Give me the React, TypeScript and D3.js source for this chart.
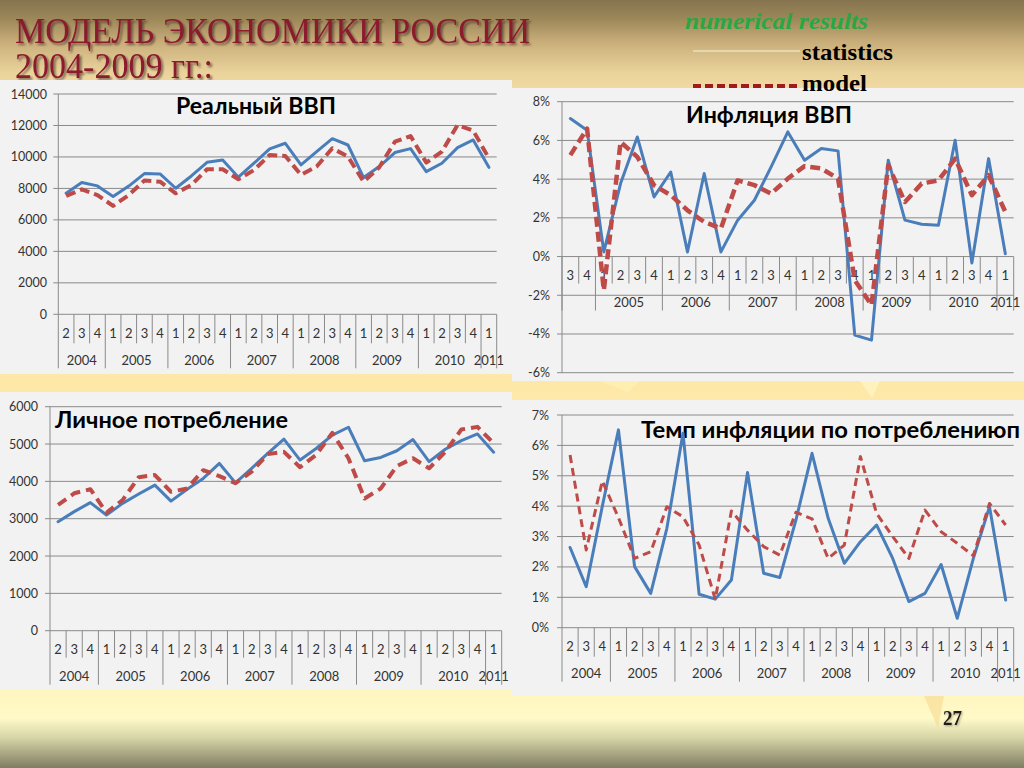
import React from "react";
import * as d3 from "d3";

// ---------- DATA ----------
const categories = [
  "2004-2", "2004-3", "2004-4",
  "2005-1", "2005-2", "2005-3", "2005-4",
  "2006-1", "2006-2", "2006-3", "2006-4",
  "2007-1", "2007-2", "2007-3", "2007-4",
  "2008-1", "2008-2", "2008-3", "2008-4",
  "2009-1", "2009-2", "2009-3", "2009-4",
  "2010-1", "2010-2", "2010-3", "2010-4",
  "2011-1",
];
const categoriesGdpInfl = categories.slice(1); // starts at 2004 Q3

const realGdpStat = [7700, 8370, 8160, 7480, 8150, 8940, 8920, 8010, 8790, 9660, 9810, 8710, 9600, 10510, 10870, 9490, 10340, 11160, 10760, 8690, 9390, 10280, 10530, 9070, 9600, 10590, 11080, 9340];
const realGdpModel = [7520, 7940, 7580, 6890, 7580, 8500, 8430, 7690, 8220, 9220, 9220, 8580, 9170, 10130, 10060, 8860, 9390, 10550, 10020, 8430, 9340, 10970, 11330, 9640, 10340, 12030, 11670, 9920];

const gdpInflStat = [7.13, 6.53, 0.24, 3.77, 6.18, 3.08, 4.37, 0.24, 4.29, 0.24, 1.88, 2.91, 4.63, 6.44, 4.98, 5.58, 5.46, -4.06, -4.32, 4.98, 1.88, 1.67, 1.62, 6.01, -0.33, 5.06, 0.15];
const gdpInflModel = [5.24, 6.61, -1.74, 5.92, 5.15, 3.69, 3.17, 2.39, 1.79, 1.45, 3.94, 3.69, 3.25, 4.03, 4.67, 4.55, 4.03, -1.22, -2.51, 4.72, 2.82, 3.77, 3.94, 5.06, 3.17, 4.2, 2.31];

const consStat = [2920, 3190, 3430, 3100, 3410, 3660, 3900, 3470, 3790, 4080, 4480, 3960, 4350, 4750, 5130, 4570, 4880, 5240, 5450, 4550, 4640, 4820, 5120, 4530, 4860, 5090, 5270, 4780];
const consModel = [3370, 3680, 3790, 3160, 3500, 4110, 4170, 3720, 3810, 4300, 4140, 3950, 4260, 4730, 4790, 4380, 4710, 5300, 4620, 3540, 3810, 4410, 4620, 4350, 4790, 5390, 5460, 5020];

const consInflStat = [2.64, 1.35, 4.0, 6.51, 2.01, 1.13, 3.27, 6.4, 1.1, 0.94, 1.57, 5.11, 1.79, 1.65, 3.54, 5.74, 3.6, 2.12, 2.83, 3.38, 2.28, 0.86, 1.13, 2.08, 0.31, 2.28, 3.98, 0.91];
const consInflModel = [5.68, 2.56, 4.83, 3.62, 2.28, 2.5, 3.98, 3.65, 2.72, 0.94, 3.84, 3.21, 2.67, 2.39, 3.8, 3.58, 2.28, 2.72, 5.63, 3.76, 3.0, 2.28, 3.87, 3.16, 2.78, 2.37, 4.09, 3.38];

const gdpTicks = [0, 2000, 4000, 6000, 8000, 10000, 12000, 14000];
const gdpInflTicks = [-6, -4, -2, 0, 2, 4, 6, 8];
const consTicks = [0, 1000, 2000, 3000, 4000, 5000, 6000];
const consInflTicks = [0, 1, 2, 3, 4, 5, 6, 7];

const titleLines = ["МОДЕЛЬ ЭКОНОМИКИ РОССИИ", "2004-2009 гг.:"];
const legendLabels = ["numerical results", "statistics", "model"];
const chartTitles = ["Реальный ВВП", "Инфляция ВВП", "Личное потребление", "Темп инфляции по потреблениюп"];
const pageNumber = "27";

// ---------- STYLE ----------
const FONT = "Lato, 'Open Sans', 'DejaVu Sans', sans-serif";
const SERIF = "'Liberation Serif', 'Times New Roman', 'DejaVu Serif', serif";
const BLUE = "#4a7ebb";
const RED = "#be4b48";
const GRID = "#8a8a8a";
const TEXT = "#333333";

type ChartProps = {
  panel: { x: number; y: number; w: number; h: number };
  x0: number; x1: number; yTop: number; yBottom: number;
  domain: [number, number];
  ticks: number[];
  fmt: (v: number) => string;
  cats: string[];
  stat: number[];
  model: number[];
  labelRight: number;
  catDy: number; yearDy: number; shortTick: number; longTick: number;
  title: string; titleX: number; titleY: number; titleLen: number; titleSize: number;
  hiddenYears?: string[];
  dash: string; modelWidth: number;
};

function Chart(p: ChartProps) {
  const x = d3.scaleBand<string>().domain(p.cats).range([p.x0, p.x1]).padding(0);
  const y = d3.scaleLinear().domain(p.domain).range([p.yBottom, p.yTop]);
  const bw = x.bandwidth();
  const cx = (i: number) => (x(p.cats[i]) as number) + bw / 2;
  const line = d3.line<number>().x((_, i) => cx(i)).y((d) => y(d));
  const y0 = y(0);
  const yearOf = (c: string) => c.split("-")[0];
  const qOf = (c: string) => c.split("-")[1];

  const groups: { year: string; start: number; end: number }[] = [];
  p.cats.forEach((c, i) => {
    const yr = yearOf(c);
    const g = groups[groups.length - 1];
    if (g && g.year === yr) g.end = i;
    else groups.push({ year: yr, start: i, end: i });
  });

  const seps: { x: number; long: boolean }[] = [];
  for (let i = 0; i <= p.cats.length; i++) {
    const xb = i < p.cats.length ? (x(p.cats[i]) as number) : p.x1;
    const long = i === 0 || i === p.cats.length || yearOf(p.cats[i]) !== yearOf(p.cats[i - 1]);
    seps.push({ x: xb, long });
  }

  const tf = { fontFamily: FONT };

  return (
    <g>
      <rect x={p.panel.x} y={p.panel.y} width={p.panel.w} height={p.panel.h} fill="#f2f2f2" />
      {p.ticks.map((t) => (
        <line key={"g" + t} x1={p.x0 - 5} x2={p.x1} y1={y(t)} y2={y(t)} stroke={GRID} strokeWidth={1} />
      ))}
      {p.ticks.map((t) => (
        <text key={"t" + t} x={p.labelRight} y={y(t) + 4.5} textAnchor="end" style={tf} fontSize={12.5} fill={TEXT}>
          {p.fmt(t)}
        </text>
      ))}
      <line x1={p.x0} x2={p.x0} y1={p.yTop} y2={p.yBottom} stroke={GRID} strokeWidth={1} />
      {seps.map((s, i) => (
        <line key={"s" + i} x1={s.x} x2={s.x} y1={y0} y2={y0 + (s.long ? p.longTick : p.shortTick)} stroke={GRID} strokeWidth={1} />
      ))}
      {p.cats.map((c, i) => (
        <text key={"q" + i} x={cx(i)} y={y0 + p.catDy} textAnchor="middle" style={tf} fontSize={13} fill={TEXT}>
          {qOf(c)}
        </text>
      ))}
      {groups
        .filter((g) => !(p.hiddenYears || []).includes(g.year))
        .map((g) => (
          <text
            key={"y" + g.year}
            x={((x(p.cats[g.start]) as number) + (x(p.cats[g.end]) as number) + bw) / 2}
            y={y0 + p.yearDy}
            textAnchor="middle"
            style={tf}
            fontSize={13}
            fill={TEXT}
          >
            {g.year}
          </text>
        ))}
      <text x={p.titleX} y={p.titleY} style={tf} fontWeight={700} fontSize={p.titleSize} fill="#000" textLength={p.titleLen} lengthAdjust="spacingAndGlyphs">
        {p.title}
      </text>
      <path d={line(p.stat) || ""} fill="none" stroke={BLUE} strokeWidth={3} strokeLinejoin="round" strokeLinecap="round" />
      <path d={line(p.model) || ""} fill="none" stroke={RED} strokeWidth={p.modelWidth} strokeDasharray={p.dash} strokeLinejoin="round" />
    </g>
  );
}

const numFmt = (v: number) => String(v);
const pctFmt = (v: number) => `${v}%`;

export default function App() {
  const sf = { fontFamily: SERIF };
  return (
    <svg width={1024} height={768} style={{ position: "fixed", left: 0, top: 0, display: "block" }}>
      <defs>
        <linearGradient id="bg" x1="0" y1="0" x2="0" y2="1">
          <stop offset="0" stopColor="#85744f" />
          <stop offset="0.025" stopColor="#9d8859" />
          <stop offset="0.055" stopColor="#c9ae7a" />
          <stop offset="0.095" stopColor="#ebd39c" />
          <stop offset="0.14" stopColor="#f7e3aa" />
          <stop offset="0.5" stopColor="#fde8a8" />
          <stop offset="0.9" stopColor="#fff5bf" />
          <stop offset="0.935" stopColor="#fffac8" />
          <stop offset="0.96" stopColor="#d8d5a8" />
          <stop offset="1" stopColor="#7e7d62" />
        </linearGradient>
        <filter id="shadow" x="-5%" y="-20%" width="110%" height="150%">
          <feDropShadow dx="2" dy="2" stdDeviation="1" floodColor="#2a0a0a" floodOpacity="0.55" />
        </filter>
        <filter id="shadowLight" x="-10%" y="-20%" width="120%" height="150%">
          <feDropShadow dx="1" dy="1" stdDeviation="0.8" floodColor="#000" floodOpacity="0.35" />
        </filter>
      </defs>
      <rect x={0} y={0} width={1024} height={768} fill="url(#bg)" />
      <polygon points="600,381 640,381 628,392" fill="#fff3b8" opacity={0.6} />
      <polygon points="860,381 880,381 872,398" fill="#fff6c4" opacity={0.7} />
      <polygon points="924,696 944,696 938,728" fill="#f7d98f" opacity={0.6} />

      {/* slide title */}
      <g filter="url(#shadow)">
        <text x={15} y={43} style={sf} fontSize={36} fill="#8a1a2e" textLength={515} lengthAdjust="spacingAndGlyphs">
          {titleLines[0]}
        </text>
        <text x={15} y={78} style={sf} fontSize={36} fill="#8a1a2e" textLength={198} lengthAdjust="spacingAndGlyphs">
          {titleLines[1]}
        </text>
      </g>

      {/* legend */}
      <text x={685} y={29} style={sf} fontStyle="italic" fontWeight={700} fontSize={23} fill="#27a843" textLength={183} lengthAdjust="spacingAndGlyphs">
        {legendLabels[0]}
      </text>
      <line x1={693} x2={800} y1={51} y2={51} stroke="#e3d6b0" strokeWidth={2} />
      <text x={802} y={60} style={sf} fontWeight={700} fontSize={24} fill="#000" textLength={91} lengthAdjust="spacingAndGlyphs">
        {legendLabels[1]}
      </text>

      <Chart
        panel={{ x: 0, y: 80, w: 512, h: 294 }}
        x0={58.3} x1={496.7} yTop={94} yBottom={314.3}
        domain={[0, 14000]} ticks={gdpTicks} fmt={numFmt}
        cats={categories} stat={realGdpStat} model={realGdpModel}
        labelRight={47} catDy={23.5} yearDy={50.5} shortTick={29} longTick={54}
        title={chartTitles[0]} titleX={176} titleY={114} titleLen={160} titleSize={22}
        dash="10 5" modelWidth={4}
      />
      <Chart
        panel={{ x: 512, y: 88, w: 512, h: 293 }}
        x0={562} x1={1013.7} yTop={101.7} yBottom={372.7}
        domain={[-6, 8]} ticks={gdpInflTicks} fmt={pctFmt}
        cats={categoriesGdpInfl} stat={gdpInflStat} model={gdpInflModel}
        labelRight={550} catDy={23} yearDy={50} shortTick={27} longTick={54}
        title={chartTitles[1]} titleX={686} titleY={122.7} titleLen={166} titleSize={22}
        hiddenYears={["2004"]}
        dash="10 5" modelWidth={4.5}
      />
      <Chart
        panel={{ x: 0, y: 392, w: 512, h: 298 }}
        x0={50} x1={501.7} yTop={406.7} yBottom={630.7}
        domain={[0, 6000]} ticks={consTicks} fmt={numFmt}
        cats={categories} stat={consStat} model={consModel}
        labelRight={38} catDy={23} yearDy={50} shortTick={27} longTick={54}
        title={chartTitles[2]} titleX={55} titleY={428} titleLen={233} titleSize={22}
        dash="10 6" modelWidth={4}
      />
      <Chart
        panel={{ x: 512, y: 400, w: 512, h: 295 }}
        x0={562} x1={1013.7} yTop={415} yBottom={627.7}
        domain={[0, 7]} ticks={consInflTicks} fmt={pctFmt}
        cats={categories} stat={consInflStat} model={consInflModel}
        labelRight={549} catDy={23} yearDy={50} shortTick={29} longTick={54}
        title={chartTitles[3]} titleX={641} titleY={437.7} titleLen={379} titleSize={22}
        dash="8 5" modelWidth={3}
      />

      <line x1={693} x2={800} y1={86} y2={86} stroke="#a01a1e" strokeWidth={4} strokeDasharray="8 4" />
      <text x={802} y={91} style={sf} fontWeight={700} fontSize={24} fill="#000" textLength={65} lengthAdjust="spacingAndGlyphs">
        {legendLabels[2]}
      </text>

      <text x={943} y={725} style={sf} fontWeight={700} fontSize={21} fill="#1a1a1a" filter="url(#shadowLight)" textLength={19} lengthAdjust="spacingAndGlyphs">
        {pageNumber}
      </text>
    </svg>
  );
}
